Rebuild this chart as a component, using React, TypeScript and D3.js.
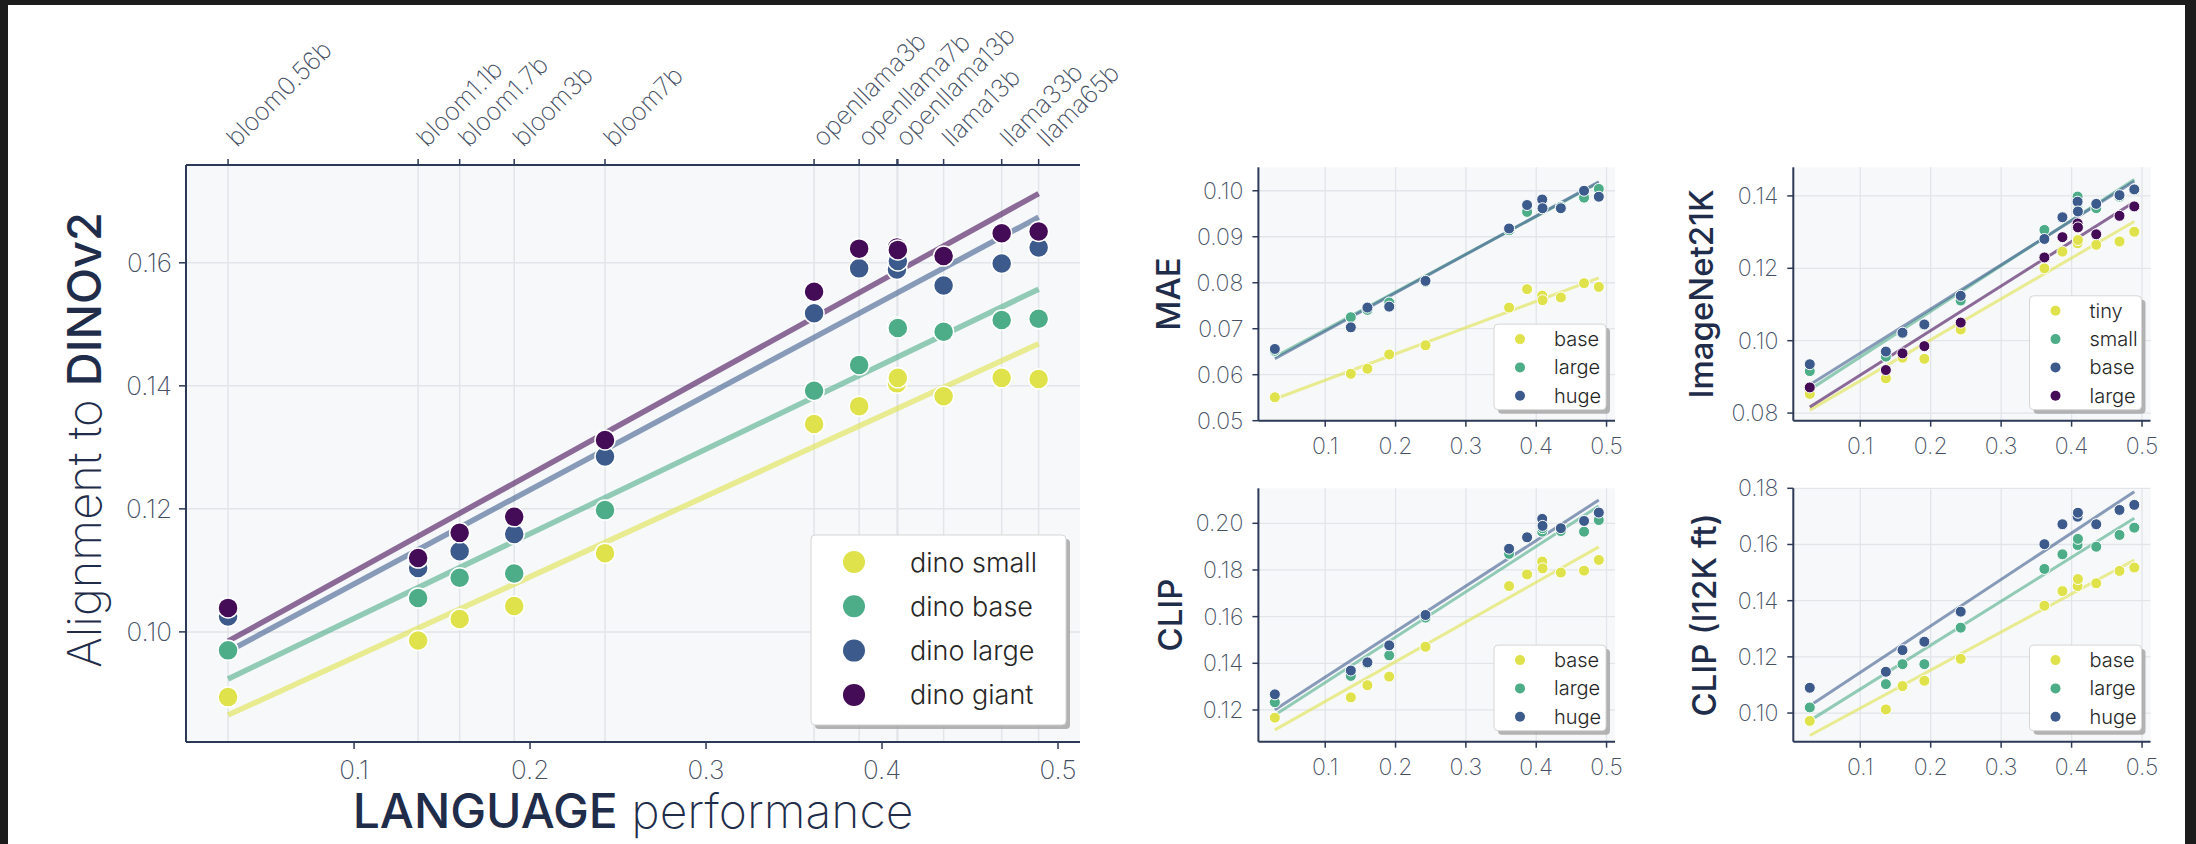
import React from 'react';
import * as d3 from 'd3';

// ---------- data ----------
const MODELS = ['bloom0.56b', 'bloom1.1b', 'bloom1.7b', 'bloom3b', 'bloom7b', 'openllama3b', 'openllama7b', 'openllama13b', 'llama7b', 'llama13b', 'llama33b', 'llama65b'];
const MODEL_LABELS = ['bloom0.56b', 'bloom1.1b', 'bloom1.7b', 'bloom3b', 'bloom7b', 'openllama3b', 'openllama7b', 'openllama13b', '', 'llama13b', 'llama33b', 'llama65b'];
const LANG_PERF = [0.0284, 0.1364, 0.160, 0.191, 0.2426, 0.3614, 0.387, 0.4085, 0.4090, 0.435, 0.468, 0.489];

const DINO_SMALL = [0.0894, 0.0986, 0.1021, 0.1042, 0.1128, 0.1338, 0.1367, 0.1404, 0.1413, 0.1383, 0.1413, 0.1411];
const DINO_BASE = [0.0970, 0.1055, 0.1088, 0.1095, 0.1198, 0.1392, 0.1434, 0.1496, 0.1494, 0.1488, 0.1507, 0.1509];
const DINO_LARGE = [0.1025, 0.1104, 0.1131, 0.1159, 0.1285, 0.1518, 0.1591, 0.1589, 0.1603, 0.1563, 0.1599, 0.1625];
const DINO_GIANT = [0.1039, 0.1120, 0.1161, 0.1187, 0.1312, 0.1553, 0.1623, 0.1625, 0.1621, 0.1611, 0.1648, 0.1651];

const MAE_BASE = [0.0551, 0.0602, 0.0613, 0.0644, 0.0664, 0.0746, 0.0786, 0.0772, 0.0762, 0.0768, 0.0799, 0.0791];
const MAE_LARGE = [0.0652, 0.0725, 0.0741, 0.0757, 0.0802, 0.0914, 0.0954, 0.0962, 0.0980, 0.0965, 0.0985, 0.1004];
const MAE_HUGE = [0.0656, 0.0703, 0.0746, 0.0748, 0.0804, 0.0918, 0.0969, 0.0981, 0.0962, 0.0962, 0.1000, 0.0987];

const IN21K_TINY = [0.0853, 0.0896, 0.0953, 0.0950, 0.1031, 0.1200, 0.1246, 0.1269, 0.1278, 0.1265, 0.1274, 0.1301];
const IN21K_SMALL = [0.0916, 0.0956, 0.1020, 0.1043, 0.1111, 0.1306, 0.1341, 0.1398, 0.1361, 0.1366, 0.1398, 0.1418];
const IN21K_BASE = [0.0935, 0.0970, 0.1022, 0.1045, 0.1124, 0.1281, 0.1341, 0.1384, 0.1357, 0.1378, 0.1402, 0.1418];
const IN21K_LARGE = [0.0871, 0.0919, 0.0965, 0.0985, 0.1050, 0.1230, 0.1286, 0.1324, 0.1313, 0.1294, 0.1345, 0.1371];

const CLIP_BASE = [0.1167, 0.1254, 0.1306, 0.1343, 0.1471, 0.1731, 0.1781, 0.1836, 0.1807, 0.1789, 0.1797, 0.1843];
const CLIP_LARGE = [0.1233, 0.1346, 0.1400, 0.1434, 0.1596, 0.1869, 0.1940, 0.1964, 0.1979, 0.1967, 0.1964, 0.2014];
const CLIP_HUGE = [0.1267, 0.1369, 0.1404, 0.1477, 0.1607, 0.1891, 0.1940, 0.2019, 0.1989, 0.1979, 0.2010, 0.2046];

const CLIPFT_BASE = [0.0972, 0.1013, 0.1096, 0.1115, 0.1193, 0.1382, 0.1434, 0.1452, 0.1477, 0.1462, 0.1506, 0.1518];
const CLIPFT_LARGE = [0.1020, 0.1103, 0.1174, 0.1174, 0.1304, 0.1513, 0.1565, 0.1598, 0.1620, 0.1592, 0.1634, 0.1660];
const CLIPFT_HUGE = [0.1090, 0.1147, 0.1224, 0.1254, 0.1361, 0.1601, 0.1672, 0.1699, 0.1713, 0.1672, 0.1723, 0.1741];

const MAIN_Y_TICKS = [0.10, 0.12, 0.14, 0.16];
const X_TICKS = [0.1, 0.2, 0.3, 0.4, 0.5];
const MAE_Y_TICKS = [0.05, 0.06, 0.07, 0.08, 0.09, 0.10];
const IN21K_Y_TICKS = [0.08, 0.10, 0.12, 0.14];
const CLIP_Y_TICKS = [0.12, 0.14, 0.16, 0.18, 0.20];
const CLIPFT_Y_TICKS = [0.10, 0.12, 0.14, 0.16, 0.18];

// ---------- style ----------
const YELLOW = '#dfe24b';
const GREEN = '#4dad88';
const BLUE = '#3c5b8c';
const PURPLE = '#440b56';
const FONT = "Inter, 'Noto Sans', sans-serif";
const LIGHT = 200;
const TICKW = 250;
const NAVY = '#1f2d4b';
const SPINE = '#2c3957';
const TICK_TEXT = '#465064';
const GRID = '#e2e5e9';
const BG = '#f7f8fa';

type Series = { name: string; values: number[]; color: string };

function linfit(xs: number[], ys: number[]) {
  const mx = d3.mean(xs) as number;
  const my = d3.mean(ys) as number;
  let sxy = 0, sxx = 0;
  xs.forEach((x, i) => { sxy += (x - mx) * (ys[i] - my); sxx += (x - mx) * (x - mx); });
  const b = sxy / sxx;
  return { a: my - b * mx, b };
}

function Legend({ x, y, w, rowH, padTop, padBottom, items, r, textDx, circleDx, fontSize }: any) {
  const h = padTop + padBottom + (items.length - 1) * rowH;
  return (
    <g>
      <rect x={x + 4} y={y + 4} width={w} height={h} rx={4} fill="#9c9c9c" opacity={0.75} />
      <rect x={x} y={y} width={w} height={h} rx={4} fill="#ffffff" stroke="#d6d6d6" strokeWidth={1} />
      {items.map((s: Series, i: number) => (
        <g key={s.name}>
          <circle cx={x + circleDx} cy={y + padTop + i * rowH} r={r} fill={s.color} />
          <text x={x + textDx} y={y + padTop + i * rowH} dominantBaseline="central" fontSize={fontSize}
            fontFamily={FONT} fontWeight={300} fill="#262626">{s.name}</text>
        </g>
      ))}
    </g>
  );
}

function MainChart() {
  const L = 186, R = 1080, T = 165, B = 742;
  const x = d3.scaleLinear().domain([0.0045, 0.5125]).range([L, R]);
  const y = d3.scaleLinear().domain([0.0821, 0.1759]).range([B, T]);
  const series: Series[] = [
    { name: 'dino small', values: DINO_SMALL, color: YELLOW },
    { name: 'dino base', values: DINO_BASE, color: GREEN },
    { name: 'dino large', values: DINO_LARGE, color: BLUE },
    { name: 'dino giant', values: DINO_GIANT, color: PURPLE },
  ];
  const x0 = d3.min(LANG_PERF) as number, x1 = d3.max(LANG_PERF) as number;
  const line = d3.line<[number, number]>().x(d => x(d[0])).y(d => y(d[1]));
  return (
    <g>
      <rect x={L} y={T} width={R - L} height={B - T} fill={BG} />
      {MAIN_Y_TICKS.map(t => <line key={t} x1={L} x2={R} y1={y(t)} y2={y(t)} stroke={GRID} strokeWidth={1.5} />)}
      {LANG_PERF.map((v, i) => <line key={i} x1={x(v)} x2={x(v)} y1={T} y2={B} stroke={GRID} strokeWidth={1.5} />)}
      {series.map(s => {
        const f = linfit(LANG_PERF, s.values);
        return <path key={s.name} d={line([[x0, f.a + f.b * x0], [x1, f.a + f.b * x1]]) as string}
          stroke={s.color} strokeWidth={5.5} opacity={0.6} fill="none" />;
      })}
      {series.map(s => (
        <g key={s.name}>
          {s.values.map((v, i) => <circle key={i} cx={x(LANG_PERF[i])} cy={y(v)} r={10} fill={s.color} stroke="#fff" strokeWidth={1.5} />)}
        </g>
      ))}
      {/* spines */}
      <line x1={L} x2={L} y1={T} y2={B} stroke={SPINE} strokeWidth={2} />
      <line x1={L} x2={R} y1={T} y2={T} stroke={SPINE} strokeWidth={2} />
      <line x1={L} x2={R} y1={B} y2={B} stroke={SPINE} strokeWidth={2} />
      {MAIN_Y_TICKS.map(t => (
        <g key={t}>
          <line x1={L - 7} x2={L} y1={y(t)} y2={y(t)} stroke={SPINE} strokeWidth={1.5} />
          <text x={L - 14} y={y(t)} textAnchor="end" dominantBaseline="central" fontSize={26} fontFamily={FONT} fontWeight={TICKW} fill={TICK_TEXT}>{t.toFixed(2)}</text>
        </g>
      ))}
      {X_TICKS.map(t => (
        <g key={t}>
          <line x1={x(t)} x2={x(t)} y1={B} y2={B + 7} stroke={SPINE} strokeWidth={1.5} />
          <text x={x(t)} y={B + 37} textAnchor="middle" fontSize={26} fontFamily={FONT} fontWeight={TICKW} fill={TICK_TEXT}>{String(t)}</text>
        </g>
      ))}
      {LANG_PERF.map((v, i) => (
        <g key={i}>
          <line x1={x(v)} x2={x(v)} y1={T - 6} y2={T} stroke={SPINE} strokeWidth={1.5} />
          {MODEL_LABELS[i] && (
            <text transform={`translate(${x(v) + 9},${T - 17}) rotate(-45)`} fontSize={25} fontFamily={FONT} fontWeight={TICKW} fill={TICK_TEXT}>{MODEL_LABELS[i]}</text>
          )}
        </g>
      ))}
      <text transform={`translate(101,440) rotate(-90)`} textAnchor="middle" fontSize={47} fontFamily={FONT} fill={NAVY}>
        <tspan fontWeight={LIGHT}>Alignment to </tspan><tspan fontWeight={500}>DINOv2</tspan>
      </text>
      <text x={(L + R) / 2} y={828} textAnchor="middle" fontSize={48} fontFamily={FONT} fill={NAVY}>
        <tspan fontWeight={500}>LANGUAGE</tspan><tspan fontWeight={LIGHT}> performance</tspan>
      </text>
      <Legend x={811} y={535} w={255} rowH={44.3} padTop={27} padBottom={30} items={series} r={11} circleDx={43} textDx={99} fontSize={27} />
    </g>
  );
}

function Panel({ L, R, T, B, yDomain, yTicks, label, labelX, series }: any) {
  const x = d3.scaleLinear().domain([0.005, 0.512]).range([L, R]);
  const y = d3.scaleLinear().domain(yDomain).range([B, T]);
  const x0 = d3.min(LANG_PERF) as number, x1 = d3.max(LANG_PERF) as number;
  const line = d3.line<[number, number]>().x(d => x(d[0])).y(d => y(d[1]));
  const n = series.length;
  const rowH = 28.3;
  const legH = 29 + (n - 1) * rowH;
  return (
    <g>
      <rect x={L} y={T} width={R - L} height={B - T} fill={BG} />
      {yTicks.map((t: number) => <line key={t} x1={L} x2={R} y1={y(t)} y2={y(t)} stroke={GRID} strokeWidth={1.3} />)}
      {X_TICKS.map(t => <line key={t} x1={x(t)} x2={x(t)} y1={T} y2={B} stroke={GRID} strokeWidth={1.3} />)}
      {series.map((s: Series) => {
        const f = linfit(LANG_PERF, s.values);
        return <path key={s.name} d={line([[x0, f.a + f.b * x0], [x1, f.a + f.b * x1]]) as string}
          stroke={s.color} strokeWidth={3} opacity={0.6} fill="none" />;
      })}
      {series.map((s: Series) => (
        <g key={s.name}>
          {s.values.map((v, i) => <circle key={i} cx={x(LANG_PERF[i])} cy={y(v)} r={5.5} fill={s.color} stroke="#fff" strokeWidth={1} />)}
        </g>
      ))}
      <line x1={L} x2={L} y1={T} y2={B} stroke={SPINE} strokeWidth={2} />
      <line x1={L} x2={R} y1={B} y2={B} stroke={SPINE} strokeWidth={2} />
      {yTicks.map((t: number) => (
        <g key={t}>
          <line x1={L - 6} x2={L} y1={y(t)} y2={y(t)} stroke={SPINE} strokeWidth={1.5} />
          <text x={L - 15} y={y(t)} textAnchor="end" dominantBaseline="central" fontSize={23} fontFamily={FONT} fontWeight={TICKW} fill={TICK_TEXT}>{t.toFixed(2)}</text>
        </g>
      ))}
      {X_TICKS.map(t => (
        <g key={t}>
          <line x1={x(t)} x2={x(t)} y1={B} y2={B + 6} stroke={SPINE} strokeWidth={1.5} />
          <text x={x(t)} y={B + 33} textAnchor="middle" fontSize={23} fontFamily={FONT} fontWeight={TICKW} fill={TICK_TEXT}>{String(t)}</text>
        </g>
      ))}
      <text transform={`translate(${labelX},${(T + B) / 2}) rotate(-90)`} textAnchor="middle" fontSize={33} fontFamily={FONT} fontWeight={500} fill={NAVY}>{label}</text>
      <Legend x={R - 121} y={B - 11 - legH} w={112} rowH={rowH} padTop={15} padBottom={14} items={series} r={5} circleDx={26} textDx={60} fontSize={20} />
    </g>
  );
}

export default function App() {
  return (
    <svg width={2196} height={844} style={{ position: 'absolute', left: 0, top: 0 }}>
      <rect x={0} y={0} width={2196} height={844} fill="#1c1c1c" />
      <rect x={8} y={5} width={2177} height={839} fill="#ffffff" />
      <MainChart />
      <Panel L={1258.4} R={1615} T={167.3} B={420.7} yDomain={[0.05, 0.1051]} yTicks={MAE_Y_TICKS} label="MAE" labelX={1180}
        series={[{ name: 'base', values: MAE_BASE, color: YELLOW }, { name: 'large', values: MAE_LARGE, color: GREEN }, { name: 'huge', values: MAE_HUGE, color: BLUE }]} />
      <Panel L={1793.3} R={2150.5} T={167.3} B={420.7} yDomain={[0.0779, 0.1479]} yTicks={IN21K_Y_TICKS} label="ImageNet21K" labelX={1713}
        series={[{ name: 'tiny', values: IN21K_TINY, color: YELLOW }, { name: 'small', values: IN21K_SMALL, color: GREEN }, { name: 'base', values: IN21K_BASE, color: BLUE }, { name: 'large', values: IN21K_LARGE, color: PURPLE }]} />
      <Panel L={1258.4} R={1615} T={488.3} B={741.7} yDomain={[0.1064, 0.215]} yTicks={CLIP_Y_TICKS} label="CLIP" labelX={1182}
        series={[{ name: 'base', values: CLIP_BASE, color: YELLOW }, { name: 'large', values: CLIP_LARGE, color: GREEN }, { name: 'huge', values: CLIP_HUGE, color: BLUE }]} />
      <Panel L={1793.3} R={2150.5} T={488.3} B={741.7} yDomain={[0.0898, 0.18]} yTicks={CLIPFT_Y_TICKS} label="CLIP (I12K ft)" labelX={1716}
        series={[{ name: 'base', values: CLIPFT_BASE, color: YELLOW }, { name: 'large', values: CLIPFT_LARGE, color: GREEN }, { name: 'huge', values: CLIPFT_HUGE, color: BLUE }]} />
    </svg>
  );
}
